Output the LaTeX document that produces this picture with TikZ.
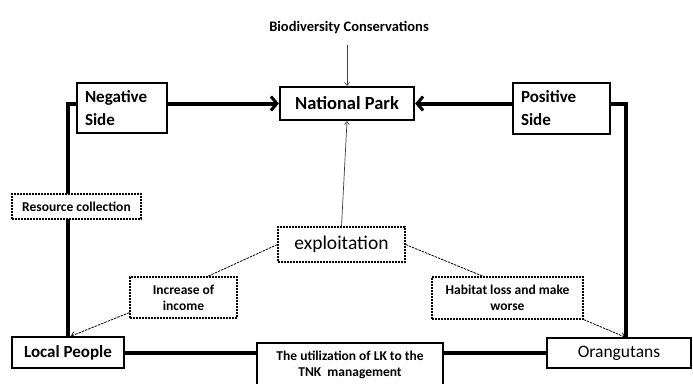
\documentclass[tikz,border=0pt]{standalone}
\usepackage{fontspec}
\setmainfont{Carlito}
\usetikzlibrary{arrows.meta,calc,backgrounds}
\begin{document}
\begin{tikzpicture}[x=1pt,y=-1pt,
  solidbox/.style={draw, line width=1.8pt, fill=white, inner sep=0pt, font=\bfseries\fontsize{17}{21}\selectfont},
  dashbox/.style={draw, line width=1.1pt, dash pattern=on 2pt off 1pt, fill=white, inner sep=0pt, align=center, font=\bfseries\fontsize{13.5}{16}\selectfont},
  thickline/.style={line width=4pt},
  bigarrow/.style={thickline, -{Straight Barb[length=6pt,width=14pt,line width=3pt]}},
  thinarrow/.style={line width=0.7pt, draw=black!75, -{Straight Barb[length=3pt,width=5pt,line width=0.6pt]}},
  dashline/.style={line width=0.8pt, dash pattern=on 2.5pt off 1pt},
  smalltip/.style={-{Straight Barb[length=3.5pt,width=6pt,line width=0.7pt]}}
]
\useasboundingbox (0,0) rectangle (693,383);
\node[solidbox, minimum width=90pt, minimum height=50pt, text width=74pt, align=left, font=\bfseries\fontsize{17}{23}\selectfont] (neg) at (122,108) {Negative\\Side};
\node[solidbox, minimum width=97pt, minimum height=51pt, text width=81pt, align=left, font=\bfseries\fontsize{17}{23}\selectfont] (pos) at (561.5,108.5) {Positive\\Side};
\node[solidbox, line width=2.2pt, minimum width=134pt, minimum height=33pt, font=\bfseries\fontsize{18.5}{22}\selectfont] (np) at (347,103.5) {National Park};
\node[font=\bfseries\fontsize{14.5}{17}\selectfont] (bio) at (349,28) {Biodiversity Conservations};
\node[dashbox, minimum width=129pt, minimum height=25pt] (res) at (76.5,206.5) {Resource collection};
\node[dashbox, minimum width=127pt, minimum height=35pt, font=\fontsize{19.5}{22}\selectfont] (expl) at (341.5,244.5) {exploitation};
\node[dashbox, minimum width=107pt, minimum height=41pt] (inc) at (183.5,297.5) {Increase of\\income};
\node[dashbox, minimum width=151pt, minimum height=42pt] (hab) at (507.5,298) {Habitat loss and make\\worse};
\node[solidbox, minimum width=112pt, minimum height=31pt] (lp) at (68,352.5) {Local People};
\node[solidbox, minimum width=144pt, minimum height=30pt, font=\fontsize{17.5}{21}\selectfont] (or) at (619,353) {Orangutans};
\node[solidbox, minimum width=186pt, minimum height=44pt, align=center, font=\bfseries\fontsize{13.5}{16}\selectfont] (mid) at (350,365) {The utilization of LK to the\\TNK\ \ management};
\begin{pgfonlayer}{background}
\fill[white] (0,0) rectangle (693,383);
\draw[thickline] (neg.west |- np.west) -| (lp.north);
\draw[thickline] (pos.east |- np.east) -| ([xshift=7pt]or.north);
\draw[thickline] (lp.east) -- (lp.east -| mid.west);
\draw[thickline] (mid.east |- or.west) -- (or.west);
\end{pgfonlayer}
\draw[bigarrow] (neg.east |- np.west) -- (np.west);
\draw[bigarrow] (pos.west |- np.east) -- (np.east);
\draw[thinarrow, shorten <=7pt] (bio.south -| np.north) -- (np.north);
\draw[thinarrow] (expl.north) -- (np.south);
\draw[dashline] (expl.west) -- ([xshift=-30pt]inc.north east);
\draw[dashline, smalltip] ([yshift=6pt]inc.south west) -- ([xshift=3pt]lp.north);
\draw[dashline] (expl.east) -- ([xshift=52pt]hab.north west);
\draw[dashline, smalltip] (hab.south east) -- ([xshift=6pt]or.north);
\end{tikzpicture}
\end{document}
